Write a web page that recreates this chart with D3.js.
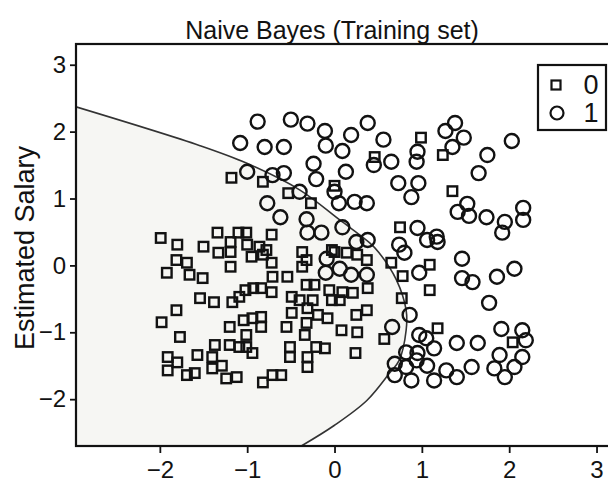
<!DOCTYPE html>
<html><head><meta charset="utf-8">
<script src="https://cdn.jsdelivr.net/npm/d3@7"></script>
<style>html,body{margin:0;padding:0;background:#fff;}svg{display:block;}</style>
</head><body>
<script>
// Class 0 points (scaled Age, scaled Estimated Salary)
const class0Age = [-1.99,-1.80,-1.50,-1.34,-1.19,-1.10,-1.01,-1.00,-0.72,-1.33,-1.19,-1.19,-0.95,-0.86,-0.82,-0.78,-0.72,-0.71,-1.81,-1.69,-1.92,-1.66,-1.51,-1.54,-1.38,-1.17,-1.09,-1.02,-0.93,-0.84,-0.72,-1.81,-1.98,-1.77,-1.20,-1.04,-0.94,-0.84,-0.84,-1.01,-1.37,-1.20,-1.09,-1.01,-0.94,-0.51,-0.51,-1.57,-1.91,-1.80,-1.91,-1.69,-1.60,-1.40,-1.40,-1.29,-1.24,-1.12,-0.82,-0.71,-0.61,-0.54,-0.49,-0.49,-0.55,0.46,-1.18,-0.82,-0.53,-0.27,0.75,-0.37,-0.03,0.99,1.24,1.35,1.09,1.09,0.77,1.18,0.57,0.24,0.08,0.26,0.37,0.25,2.04,0.37,0.38,0.78,0.65,-0.32,0.00,0.14,0.26,-0.37,-0.32,-0.23,-0.06,0.09,0.21,-0.03,0.06,-0.31,-0.19,-0.08,-0.32,-0.34,-0.21,-0.11,-0.31,-0.31,-0.40,-0.25,0.00];
const class0Salary = [0.41,0.31,0.28,0.49,0.35,0.49,0.49,0.31,0.46,0.19,0.20,-0.02,0.13,0.28,0.16,0.23,0.04,-0.17,0.08,0.04,-0.11,-0.14,-0.19,-0.49,-0.55,-0.55,-0.47,-0.37,-0.34,-0.34,-0.40,-0.67,-0.85,-1.07,-0.92,-0.82,-0.79,-0.77,-0.92,-1.04,-1.19,-1.19,-1.22,-1.22,-1.31,-1.22,-1.37,-1.34,-1.37,-1.45,-1.57,-1.64,-1.61,-1.37,-1.54,-1.50,-1.69,-1.67,-1.75,-1.64,-1.64,-0.17,-0.47,-0.71,-0.92,1.62,1.31,1.25,1.08,0.93,0.57,0.20,0.23,1.91,1.65,1.11,0.01,-0.37,-0.49,-0.94,-1.10,-1.31,-0.97,-1.00,-0.67,-0.74,-1.15,0.08,-0.34,-0.16,0.04,0.08,0.20,0.19,0.16,-0.02,-0.29,-0.29,-0.37,-0.40,-0.41,-0.52,-0.52,-0.64,-0.74,-0.79,-0.86,-1.04,-1.22,-1.24,-1.37,-1.52,-0.52,-0.52,1.19];

// Class 1 points
const class1Age = [-0.88,-0.50,-0.31,-0.11,0.38,-1.08,-0.80,-0.58,-0.10,0.09,0.19,0.56,0.65,0.45,-0.24,0.13,-0.21,0.00,-1.00,-0.71,-0.58,-0.40,-0.77,0.05,0.23,0.37,-0.62,-0.32,-0.31,-0.15,0.09,0.25,0.38,0.73,1.38,1.27,1.48,1.35,2.03,1.75,1.65,0.95,0.94,0.96,0.88,1.52,1.41,1.54,1.74,1.95,2.16,2.16,1.92,0.95,1.17,1.06,1.18,1.46,1.46,1.58,1.86,2.06,1.77,0.74,0.80,0.97,-0.09,0.06,0.19,0.37,-0.10,0.86,0.66,0.97,1.05,1.14,0.82,0.95,0.69,0.82,0.94,1.06,1.28,1.40,1.14,0.88,0.69,1.40,1.64,1.57,1.91,2.15,2.19,2.15,2.06,1.89,1.83,1.95];
const class1Salary = [2.15,2.18,2.12,2.01,2.13,1.83,1.77,1.77,1.79,1.71,1.95,1.88,1.55,1.50,1.52,1.40,1.29,1.10,1.40,1.35,1.38,1.10,0.93,0.93,0.95,0.93,0.72,0.69,0.49,0.49,0.57,0.35,0.38,1.23,2.13,2.01,1.91,1.77,1.86,1.65,1.38,1.70,1.55,1.23,1.02,0.92,0.80,0.74,0.72,0.65,0.86,0.68,0.49,0.56,0.43,0.38,0.35,0.10,-0.19,-0.25,-0.17,-0.05,-0.56,0.31,0.19,-0.11,0.10,-0.05,-0.14,-0.14,-0.11,-0.74,-0.92,-1.04,-1.09,-1.24,-1.30,-1.31,-1.47,-1.52,-1.42,-1.50,-1.57,-1.67,-1.72,-1.72,-1.64,-1.16,-1.16,-1.52,-0.95,-0.97,-1.12,-1.37,-1.52,-1.34,-1.54,-1.67];

// Decision boundary
const boundaryAge = [-2.96,-1.54,-1.01,-0.40,0.06,0.40,0.51,0.71,0.82,0.82,0.74,0.63,0.37,0.00,-0.38];
const boundarySalary = [2.37,1.79,1.53,1.13,0.68,0.34,0.19,-0.22,-0.67,-0.97,-1.42,-1.61,-2.02,-2.39,-2.70];

const xTicks = [-2,-1,0,1,2,3];
const yTicks = [-2,-1,0,1,2,3];
const legendLabels = ["0","1"];
const title = "Naive Bayes (Training set)";
const yTitle = "Estimated Salary";

const W = 608, H = 496;
const L = 76, R = 614, T = 44, B = 446;
const xDom = [-2.96, 3.2], yDom = [-2.7, 3.31];

const svg = d3.select("body").append("svg").attr("width", W).attr("height", H);
const x = d3.scaleLinear().domain(xDom).range([L, R]);
const y = d3.scaleLinear().domain(yDom).range([B, T]);
const ink = "#121212";
const font = "'Liberation Sans', Arial, sans-serif";

svg.append("defs").append("clipPath").attr("id","clip")
  .append("rect").attr("x",L).attr("y",T).attr("width",R-L).attr("height",B-T);

// region 0 fill + boundary
const bpts = boundaryAge.map((a,i)=>[a, boundarySalary[i]]);
const curveGen = d3.line().x(d=>x(d[0])).y(d=>y(d[1])).curve(d3.curveCatmullRom.alpha(0.5));
const curveD = curveGen(bpts);
svg.append("path").attr("clip-path","url(#clip)")
  .attr("d", curveD + "L" + x(xDom[0]) + "," + y(yDom[0]) + "Z")
  .attr("fill","#f6f6f3").attr("stroke","none");
svg.append("path").attr("clip-path","url(#clip)")
  .attr("d", curveD).attr("fill","none").attr("stroke","#333").attr("stroke-width",1.6);

// points
const g = svg.append("g").attr("clip-path","url(#clip)");
const s = 9.5;
g.selectAll("rect.p0").data(class0Age.map((a,i)=>[a,class0Salary[i]])).enter()
  .append("rect").attr("class","p0")
  .attr("x", d=>x(d[0])-s/2).attr("y", d=>y(d[1])-s/2).attr("width", s).attr("height", s)
  .attr("fill","none").attr("stroke",ink).attr("stroke-width",2.4);
g.selectAll("circle.p1").data(class1Age.map((a,i)=>[a,class1Salary[i]])).enter()
  .append("circle").attr("class","p1")
  .attr("cx", d=>x(d[0])).attr("cy", d=>y(d[1])).attr("r", 7)
  .attr("fill","none").attr("stroke",ink).attr("stroke-width",2.4);

// frame
svg.append("rect").attr("x",L).attr("y",T).attr("width",R-L).attr("height",B-T)
  .attr("fill","none").attr("stroke",ink).attr("stroke-width",2.2);

// axes
const fmt = d => d < 0 ? "\u2212" + Math.abs(d) : String(d);
const xa = svg.append("g").attr("transform",`translate(0,${B})`)
  .call(d3.axisBottom(x).tickValues(xTicks).tickFormat(fmt).tickSizeOuter(0).tickSize(7).tickPadding(8));
const ya = svg.append("g").attr("transform",`translate(${L},0)`)
  .call(d3.axisLeft(y).tickValues(yTicks).tickFormat(fmt).tickSizeOuter(0).tickSize(6).tickPadding(4));
[xa, ya].forEach(a => {
  a.select(".domain").remove();
  a.selectAll("line").attr("stroke",ink).attr("stroke-width",1.8);
  a.selectAll("text").attr("fill",ink).style("font-family",font).style("font-size","24px");
});

// titles
svg.append("text").attr("x",332).attr("y",39).attr("text-anchor","middle")
  .style("font-family",font).style("font-size","25px").attr("fill",ink).text(title);
svg.append("text").attr("transform","translate(34,248) rotate(-90)").attr("text-anchor","middle")
  .style("font-family",font).style("font-size","27px").attr("fill",ink).text(yTitle);

// legend
const lg = svg.append("g");
lg.append("rect").attr("x",538).attr("y",65).attr("width",68).attr("height",65)
  .attr("fill","#fff").attr("stroke",ink).attr("stroke-width",2.2);
lg.append("rect").attr("x",556-4.5).attr("y",85-4.5).attr("width",9).attr("height",9)
  .attr("fill","none").attr("stroke",ink).attr("stroke-width",2.2);
lg.append("circle").attr("cx",557).attr("cy",113).attr("r",6.5)
  .attr("fill","none").attr("stroke",ink).attr("stroke-width",2.2);
legendLabels.forEach((t,i)=>{
  lg.append("text").attr("x",591).attr("y",94+i*28).attr("text-anchor","middle")
    .style("font-family",font).style("font-size","27px").attr("fill",ink).text(t);
});
</script>
</body></html>
